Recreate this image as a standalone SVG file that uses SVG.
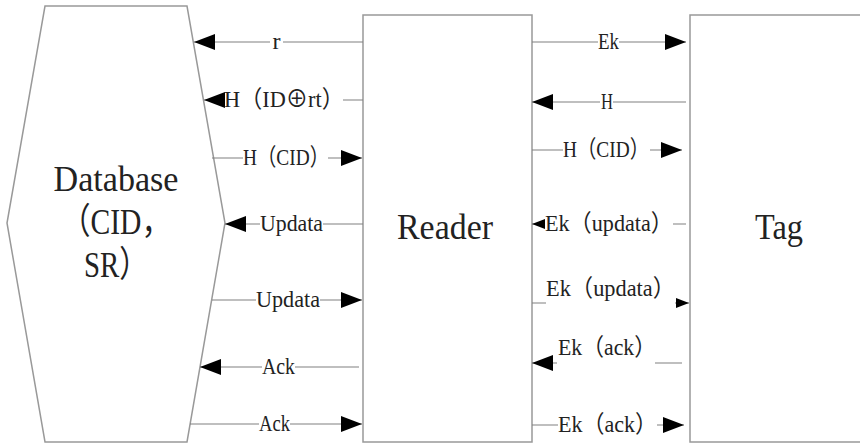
<svg xmlns="http://www.w3.org/2000/svg" width="860" height="444" viewBox="0 0 860 444">
  <style>
    .box { fill: #fff; stroke: #999; stroke-width: 1.5; }
    .conn path { fill: none; stroke: #808080; stroke-width: 1.1; }
    .lbl { font-family: "Liberation Serif", "Noto Sans CJK SC", "DejaVu Serif", serif; font-size: 24px; fill: #222; }
    .big { font-family: "Liberation Serif", "Noto Sans CJK SC", "DejaVu Serif", serif; font-size: 36px; fill: #222; }
  </style>
  <defs>
    <marker id="ah" markerUnits="userSpaceOnUse" markerWidth="21" markerHeight="16" refX="21" refY="8" orient="auto">
      <path d="M0,0 L21,8 L0,16 z" fill="#000"/>
    </marker>
    <marker id="ahs" markerUnits="userSpaceOnUse" markerWidth="13" markerHeight="10" refX="13" refY="5" orient="auto">
      <path d="M0,0 L13,5 L0,10 z" fill="#000"/>
    </marker>
  </defs>

  <rect width="860" height="444" fill="#fff"/>

  <!-- Database node -->
  <g id="database">
    <polygon class="box" points="45,6 187,6 225,223 187,442 45,442 7,223"/>
    <text class="big" x="116" y="191" text-anchor="middle" textLength="125" lengthAdjust="spacingAndGlyphs">Database</text>
    <text class="big" x="116" y="234" text-anchor="middle" textLength="110" lengthAdjust="spacingAndGlyphs">（CID，</text>
    <text class="big" x="116" y="277" text-anchor="middle" textLength="64" lengthAdjust="spacingAndGlyphs">SR）</text>
  </g>

  <!-- Reader node -->
  <g id="reader">
    <rect class="box" x="363" y="15" width="169" height="427"/>
    <text class="big" x="397" y="239" textLength="96" lengthAdjust="spacingAndGlyphs">Reader</text>
  </g>

  <!-- Tag node -->
  <g id="tag">
    <rect class="box" x="690" y="15" width="180" height="427"/>
    <text class="big" x="755" y="239" textLength="48" lengthAdjust="spacingAndGlyphs">Tag</text>
  </g>

  <!-- Messages between the nodes -->
  <g id="connectors" class="conn">
    <!-- Reader <-> Database -->
    <path d="M363,42 H283 M270,42 H194" marker-end="url(#ah)"/>
    <path d="M363,100 H343 M224,100 H204" marker-end="url(#ah)"/>
    <path d="M212,158 H243 M328,158 H362" marker-end="url(#ah)"/>
    <path d="M363,224 H323 M260,224 H225" marker-end="url(#ah)"/>
    <path d="M212,300 H256 M320,300 H362" marker-end="url(#ah)"/>
    <path d="M359,367 H295 M262,367 H200" marker-end="url(#ah)"/>
    <path d="M190,424 H259 M290,424 H362" marker-end="url(#ah)"/>
    <!-- Reader <-> Tag -->
    <path d="M532,42 H598 M619,42 H686" marker-end="url(#ah)"/>
    <path d="M686,102 H613 M600,102 H532" marker-end="url(#ah)"/>
    <path d="M532,150 H563 M650,150 H682" marker-end="url(#ah)"/>
    <path d="M686,224 H673 M545,224 H532" marker-end="url(#ahs)"/>
    <path d="M532,303 H546 M675,303 H689" marker-end="url(#ahs)"/>
    <path d="M682,363 H655 M557,363 H532" marker-end="url(#ah)"/>
    <path d="M532,425 H558 M657,425 H684" marker-end="url(#ah)"/>

    <text class="lbl" x="276.5" y="49" text-anchor="middle">r</text>
    <text class="lbl" x="224" y="107" textLength="120" lengthAdjust="spacingAndGlyphs">H（ID⊕rt）</text>
    <text class="lbl" x="243" y="165" textLength="86" lengthAdjust="spacingAndGlyphs">H（CID）</text>
    <text class="lbl" x="260" y="231" textLength="63" lengthAdjust="spacingAndGlyphs">Updata</text>
    <text class="lbl" x="256" y="307" textLength="64" lengthAdjust="spacingAndGlyphs">Updata</text>
    <text class="lbl" x="262" y="374" textLength="33" lengthAdjust="spacingAndGlyphs">Ack</text>
    <text class="lbl" x="259" y="431" textLength="31" lengthAdjust="spacingAndGlyphs">Ack</text>

    <text class="lbl" x="598" y="49" textLength="21" lengthAdjust="spacingAndGlyphs">Ek</text>
    <text class="lbl" x="601" y="109" textLength="12" lengthAdjust="spacingAndGlyphs">H</text>
    <text class="lbl" x="563" y="157" textLength="86" lengthAdjust="spacingAndGlyphs">H（CID）</text>
    <text class="lbl" x="545" y="231" textLength="128" lengthAdjust="spacingAndGlyphs">Ek（updata）</text>
    <text class="lbl" x="546" y="296" textLength="129" lengthAdjust="spacingAndGlyphs">Ek（updata）</text>
    <text class="lbl" x="558" y="355" textLength="98" lengthAdjust="spacingAndGlyphs">Ek（ack）</text>
    <text class="lbl" x="558" y="432" textLength="99" lengthAdjust="spacingAndGlyphs">Ek（ack）</text>
  </g>
</svg>
